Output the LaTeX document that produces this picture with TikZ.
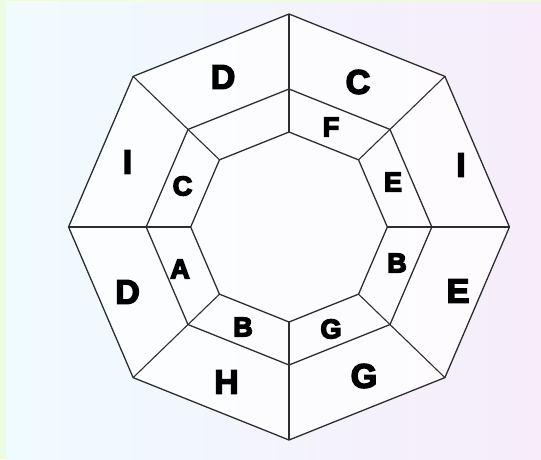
\documentclass[tikz,border=0pt]{standalone}
\usepackage{fontspec}
\setsansfont{Liberation Sans}
\usetikzlibrary{calc}
\definecolor{ink}{RGB}{45,45,50}
\definecolor{mint}{RGB}{236,251,226}
\definecolor{frost}{RGB}{240,251,255}
\definecolor{lilac}{RGB}{246,236,250}
% thicker letters: fill and stroke the glyphs
\newcommand{\heavy}[1]{\special{pdf:literal direct 0 G 2 Tr 1.5 w}#1\special{pdf:literal direct 0 Tr}}
\tikzset{
  rim/.style={draw=ink,line width=1.3pt,line join=round},
  spoke/.style={draw=ink,line width=1.1pt},
  biglbl/.style={font=\sffamily\bfseries\fontsize{34}{34}\selectfont,text=black,inner sep=0pt},
  smalllbl/.style={font=\sffamily\bfseries\fontsize{27}{27}\selectfont,text=black,inner sep=0pt}
}

\begin{document}
\begin{tikzpicture}[x=1pt,y=1pt]
  \useasboundingbox (0,0) rectangle (541,459);
  % background
  \fill[mint] (0,0) rectangle (541,459);
  \shade[left color=frost,right color=lilac] (6,0) rectangle (541,457);
  % corners of the three rings
  \begin{scope}[shift={(289,232)},xscale=1.035]
    \foreach \i in {0,...,7} {
      \coordinate (in\i) at (\i*45:95);
      \coordinate (mid\i) at (\i*45:138);
      \coordinate (out\i) at (\i*45:213);
    }
  \end{scope}
  \fill[white,opacity=0.8] (out0) \foreach \i in {1,...,7} {-- (out\i)} -- cycle;
  \draw[rim] (out0) \foreach \i in {1,...,7} {-- (out\i)} -- cycle;
  \draw[rim] (mid0) \foreach \i in {1,...,7} {-- (mid\i)} -- cycle;
  \draw[rim] (in0) \foreach \i in {1,...,7} {-- (in\i)} -- cycle;
  \foreach \i in {0,...,7} \draw[spoke] (in\i) -- (out\i);
  % outer ring letters
  \foreach \x/\y/\t/\n in {223/382/D/1, 358/377/C/2, 127.5/297/I/3, 461/294/I/4,
      127.5/167/D/5, 458/168/E/6, 226.5/77/H/7, 364/83/G/8}
    \node[biglbl] (lo\n) at (\x,\y) {\heavy{\t}};
  % middle ring letters
  \foreach \x/\y/\t/\n in {331/332/F/1, 393/277/E/2, 182.5/273/C/3, 180/190/A/4,
      397/196/B/5, 243/132/B/6, 331/130/G/7}
    \node[smalllbl] (lm\n) at (\x,\y) {\heavy{\t}};
\end{tikzpicture}
\end{document}
